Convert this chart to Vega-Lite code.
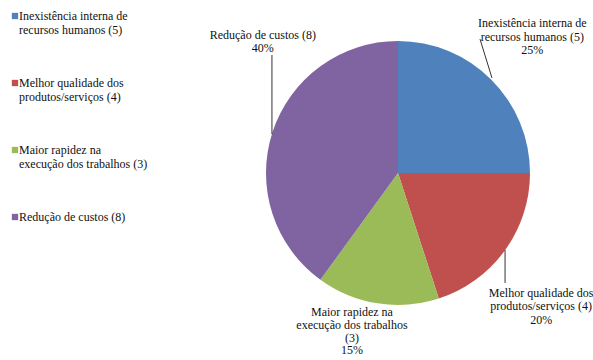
{
  "$schema": "https://vega.github.io/schema/vega-lite/v6.json",
  "width": 264,
  "height": 264,
  "autosize": {"type": "none"},
  "padding": {"left": 266, "top": 41, "right": 63, "bottom": 55},
  "background": "#ffffff",
  "config": {"view": {"stroke": null}, "font": "'Liberation Serif', 'Times New Roman', 'DejaVu Serif', serif"},
  "data": {"values": [
    {"cat": "Inexistência interna de|recursos humanos (5)", "lbl": "Inexistência interna de|recursos humanos (5)|25%", "n": 5, "ord": 1},
    {"cat": "Melhor qualidade dos|produtos/serviços (4)", "lbl": "Melhor qualidade dos|produtos/serviços (4)|20%", "n": 4, "ord": 2},
    {"cat": "Maior rapidez na|execução dos trabalhos (3)", "lbl": "Maior rapidez na|execução dos trabalhos|(3)|15%", "n": 3, "ord": 3},
    {"cat": "Redução de custos (8)", "lbl": "Redução de custos (8)|40%", "n": 8, "ord": 4}
  ]},
  "layer": [
    {
      "encoding": {
        "theta": {"field": "n", "type": "quantitative", "stack": true},
        "order": {"field": "ord", "type": "quantitative"}
      },
      "layer": [
        {
          "mark": {"type": "arc", "radius": 132},
          "encoding": {
            "color": {
              "field": "cat", "type": "nominal",
              "sort": {"field": "ord", "op": "min"},
              "scale": {"range": ["#4F81BD", "#C0504D", "#9BBB59", "#8064A2"]},
              "legend": {
                "title": null, "orient": "none", "legendX": -257, "legendY": -31,
                "symbolType": "square", "symbolSize": 40, "symbolStrokeWidth": 0,
                "labelFont": "'Liberation Serif', 'Times New Roman', 'DejaVu Serif', serif", "labelFontSize": 12, "labelColor": "#111111",
                "labelExpr": "split(datum.label, '|')", "rowPadding": 41, "labelOffset": -2,
                "labelLimit": 300, "labelBaseline": "middle"
              }
            }
          }
        },
        {
          "mark": {"type": "text", "radius": 190, "dy": -15.5, "lineBreak": "|", "lineHeight": 13.5, "font": "'Liberation Serif', 'Times New Roman', 'DejaVu Serif', serif", "fontSize": 12, "color": "#111111"},
          "encoding": {"detail": {"field": "cat"}, "text": {"condition": {"test": "datum.ord == 1", "field": "lbl"}, "value": ""}}
        },
        {
          "mark": {"type": "text", "radius": 177, "dy": 15.5, "lineBreak": "|", "lineHeight": 13.5, "font": "'Liberation Serif', 'Times New Roman', 'DejaVu Serif', serif", "fontSize": 12, "color": "#111111"},
          "encoding": {"detail": {"field": "cat"}, "text": {"condition": {"test": "datum.ord == 2", "field": "lbl"}, "value": ""}}
        },
        {
          "mark": {"type": "text", "radius": 160, "dx": -21, "dy": -19, "lineBreak": "|", "lineHeight": 12.8, "font": "'Liberation Serif', 'Times New Roman', 'DejaVu Serif', serif", "fontSize": 12, "color": "#111111"},
          "encoding": {"detail": {"field": "cat"}, "text": {"condition": {"test": "datum.ord == 3", "field": "lbl"}, "value": ""}}
        },
        {
          "mark": {"type": "text", "radius": 160, "dx": 17, "dy": -89, "lineBreak": "|", "lineHeight": 13.5, "font": "'Liberation Serif', 'Times New Roman', 'DejaVu Serif', serif", "fontSize": 12, "color": "#111111"},
          "encoding": {"detail": {"field": "cat"}, "text": {"condition": {"test": "datum.ord == 4", "field": "lbl"}, "value": ""}}
        }
      ]
    },
    {
      "data": {"values": [{}]},
      "mark": {"type": "rule", "color": "#333333", "strokeWidth": 1},
      "encoding": {
        "x": {"datum": 0.712, "type": "quantitative", "scale": {"domain": [-1, 1], "nice": false, "zero": false}, "axis": null},
        "y": {"datum": 0.72, "type": "quantitative", "scale": {"domain": [-1, 1], "nice": false, "zero": false}, "axis": null},
        "x2": {"datum": 0.621},
        "y2": {"datum": 1.015}
      }
    },
    {
      "data": {"values": [{}]},
      "mark": {"type": "rule", "color": "#333333", "strokeWidth": 1},
      "encoding": {
        "x": {"datum": 0.811, "type": "quantitative", "scale": {"domain": [-1, 1], "nice": false, "zero": false}, "axis": null},
        "y": {"datum": -0.583, "type": "quantitative", "scale": {"domain": [-1, 1], "nice": false, "zero": false}, "axis": null},
        "y2": {"datum": -0.833}
      }
    },
    {
      "data": {"values": [{}]},
      "mark": {"type": "rule", "color": "#333333", "strokeWidth": 1},
      "encoding": {
        "x": {"datum": -0.955, "type": "quantitative", "scale": {"domain": [-1, 1], "nice": false, "zero": false}, "axis": null},
        "y": {"datum": 0.295, "type": "quantitative", "scale": {"domain": [-1, 1], "nice": false, "zero": false}, "axis": null},
        "y2": {"datum": 0.894}
      }
    }
  ]
}
